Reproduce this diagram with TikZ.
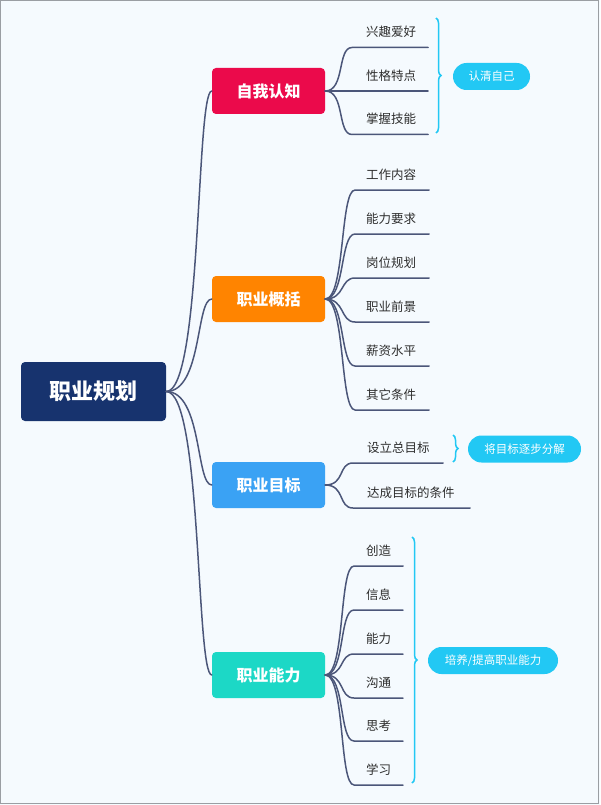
\documentclass[tikz,border=0pt]{standalone}
\usepackage{fontspec}
\setmainfont{Noto Sans CJK SC}
\usetikzlibrary{decorations.pathreplacing,shapes.misc}
\definecolor{bgc}{HTML}{F5FAFE}
\definecolor{bordc}{HTML}{9A9EA3}
\definecolor{rootc}{HTML}{17336E}
\definecolor{cA}{HTML}{EB0A4B}
\definecolor{cB}{HTML}{FF8400}
\definecolor{cC}{HTML}{3AA2F4}
\definecolor{cD}{HTML}{1CD8C6}
\definecolor{pillc}{HTML}{22C8F4}
\definecolor{linec}{HTML}{4B5679}
\definecolor{leafc}{HTML}{2E2E2E}
\tikzset{
  rootbox/.style={draw=none, fill=rootc, rounded corners=4, minimum width=145, minimum height=59, inner sep=0, text=white, font=\fontsize{22}{24}\selectfont\bfseries},
  mainbox/.style={draw=none, rounded corners=4, minimum width=113, minimum height=46, inner sep=0, text=white, font=\fontsize{16}{18}\selectfont\bfseries},
  leaf/.style={anchor=west, inner sep=0, text=leafc, font=\fontsize{12.5}{14}\selectfont},
  branch/.style={draw=linec, line width=1.5, line cap=round},
  bracestyle/.style={draw=pillc, line width=1.5, decorate, decoration={brace, amplitude=5}},
  pill/.style={rounded rectangle, fill=pillc, text=white, inner sep=0, minimum height=27, font=\fontsize{11.5}{13}\selectfont},
}
\begin{document}
\begin{tikzpicture}[x=1pt,y=-1pt]
\useasboundingbox (0,0) rectangle (600,805);
\fill[bgc] (0,0) rectangle (600,805);
\draw[bordc, line width=1.2] (0.8,0.8) rectangle (598.6,803.6);

\node[rootbox] (root) at (93.5,391.5) {职业规划};
\node[mainbox, fill=cA] (A) at (268.5,91) {自我认知};
\node[mainbox, fill=cB] (B) at (268.5,299) {职业概括};
\node[mainbox, fill=cC] (C) at (268.5,485) {职业目标};
\node[mainbox, fill=cD] (D) at (268.5,675) {职业能力};

\foreach \t in {A,B,C,D}
  \draw[branch] (root.east) .. controls +(36,0) and +(-16,0) .. (\t.west);

% A leaves
\foreach \y/\txt [count=\i] in {47.5/兴趣爱好, 91/性格特点, 134.5/掌握技能}{
  \coordinate (As\i) at (352,\y);
  \coordinate (Ae\i) at (428,\y);
  \node[leaf] (At\i) at (366,\y-15.5) {\txt};
  \draw[branch] (A.east) .. controls +(20,0) and +(-15,0) .. (As\i) -- (Ae\i);
}
% B leaves
\foreach \y/\txt [count=\i] in {190/工作内容, 234/能力要求, 278/岗位规划, 322/职业前景, 366/薪资水平, 410/其它条件}{
  \coordinate (Bs\i) at (355,\y);
  \coordinate (Be\i) at (429,\y);
  \node[leaf] (Bt\i) at (366,\y-15.5) {\txt};
  \draw[branch] (B.east) .. controls +(20,0) and +(-15,0) .. (Bs\i) -- (Be\i);
}
% C leaves
\foreach \y/\e/\txt [count=\i] in {463/443/设立总目标, 508/470/达成目标的条件}{
  \coordinate (Cs\i) at (353,\y);
  \coordinate (Ce\i) at (\e,\y);
  \node[leaf] (Ct\i) at (367,\y-15.5) {\txt};
  \draw[branch] (C.east) .. controls +(20,0) and +(-15,0) .. (Cs\i) -- (Ce\i);
}
% D leaves
\foreach \y/\txt [count=\i] in {566/创造, 610/信息, 654/能力, 698/沟通, 741/思考, 785/学习}{
  \coordinate (Ds\i) at (354,\y);
  \coordinate (De\i) at (403,\y);
  \node[leaf] (Dt\i) at (366,\y-15.5) {\txt};
  \draw[branch] (D.east) .. controls +(20,0) and +(-15,0) .. (Ds\i) -- (De\i);
}

% braces and summaries
\coordinate (bA1) at (436,18);  \coordinate (bA2) at (436,133);
\draw[bracestyle] (bA1) -- (bA2);
\node[pill, minimum width=77] (pA) at (491.5,76.5) {认清自己};

\coordinate (bC1) at (453,435); \coordinate (bC2) at (453,462);
\draw[bracestyle] (bC1) -- (bC2);
\node[pill, minimum width=113] (pC) at (524.5,449) {将目标逐步分解};

\coordinate (bD1) at (412,537); \coordinate (bD2) at (412,783);
\draw[bracestyle] (bD1) -- (bD2);
\node[pill, minimum width=130] (pD) at (493,660.5) {培养/提高职业能力};
\end{tikzpicture}
\end{document}
